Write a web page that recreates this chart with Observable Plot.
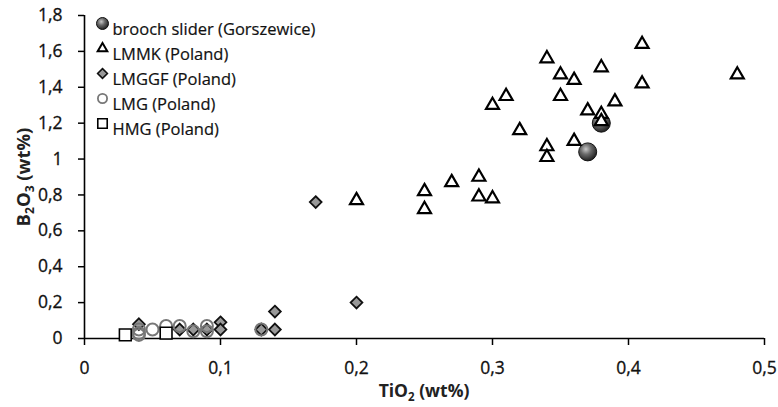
<!DOCTYPE html>
<html><head><meta charset="utf-8">
<script src="https://cdn.jsdelivr.net/npm/d3@7"></script>
<script src="https://cdn.jsdelivr.net/npm/@observablehq/plot@0.6"></script>
<style>
body{margin:0;background:#fff;}
#chart svg{display:block;background:#fff;}
</style>
</head><body><div id="chart"></div>
<script>
// ---- data ----
const seriesNames = ["brooch slider (Gorszewice)", "LMMK (Poland)", "LMGGF (Poland)", "LMG (Poland)", "HMG (Poland)"];

const broochX = [0.37, 0.38];
const broochY = [1.04, 1.20];

const lmmkX = [0.48, 0.41, 0.41, 0.38, 0.34, 0.35, 0.36, 0.35, 0.39, 0.37, 0.38, 0.38, 0.30, 0.31, 0.32, 0.34, 0.34, 0.36, 0.29, 0.29, 0.30, 0.27, 0.25, 0.25, 0.20];
const lmmkY = [1.47, 1.64, 1.42, 1.51, 1.56, 1.47, 1.44, 1.35, 1.32, 1.27, 1.25, 1.21, 1.30, 1.35, 1.16, 1.07, 1.01, 1.10, 0.90, 0.79, 0.78, 0.87, 0.82, 0.72, 0.77];

const lmggfX = [0.17, 0.20, 0.14, 0.14, 0.13, 0.10, 0.10, 0.09, 0.08, 0.07, 0.04];
const lmggfY = [0.76, 0.20, 0.15, 0.05, 0.05, 0.09, 0.05, 0.05, 0.05, 0.05, 0.08];

const lmgX = [0.04, 0.04, 0.04, 0.05, 0.06, 0.07, 0.08, 0.09, 0.09, 0.13];
const lmgY = [0.05, 0.03, 0.02, 0.05, 0.07, 0.07, 0.04, 0.07, 0.04, 0.05];

const hmgX = [0.03, 0.06];
const hmgY = [0.02, 0.03];

const xTicks = [0, 0.1, 0.2, 0.3, 0.4, 0.5];
const yTicks = [0, 0.2, 0.4, 0.6, 0.8, 1.0, 1.2, 1.4, 1.6, 1.8];

// ---- build ----
const toRows = (xs, ys) => xs.map((x, i) => ({x, y: ys[i]}));
const brooch = toRows(broochX, broochY);
const lmmk = toRows(lmmkX, lmmkY);
const lmggf = toRows(lmggfX, lmggfY);
const lmg = toRows(lmgX, lmgY);
const hmg = toRows(hmgX, hmgY);

const fmt = d => (+d.toFixed(2)).toString().replace(".", ",");
const FONT = "'Open Sans', sans-serif";

const legendStyles = [
  {symbol: "circle", r: 6, fill: "url(#sphere)", stroke: "#111", strokeWidth: 1},
  {symbol: "triangle2", r: 4.6, fill: "white", stroke: "#000", strokeWidth: 2},
  {symbol: "diamond2", r: 4.4, fill: "#999", stroke: "#111", strokeWidth: 1.6},
  {symbol: "circle", r: 4.6, fill: "white", stroke: "#777", strokeWidth: 1.8},
  {symbol: "square2", r: 6, fill: "white", stroke: "#000", strokeWidth: 1.6}
];
const legendMarks = seriesNames.flatMap((name, i) => [
  Plot.dot([name], {frameAnchor: "top-left", dx: 18, dy: 8 + 25 * i, ...legendStyles[i]}),
  Plot.text([name], {frameAnchor: "top-left", dx: 28, dy: 8 + 25 * i, text: d => d, textAnchor: "start", fontSize: 16.5, fill: "#111", stroke: "#111", strokeWidth: 0.2, fontFamily: FONT})
]);

const chart = Plot.plot({
  width: 778, height: 407,
  marginLeft: 84, marginRight: 14, marginTop: 15, marginBottom: 69,
  style: {fontFamily: FONT, fontSize: "17.5px", color: "#111", background: "white"},
  x: {domain: [0, 0.5], ticks: xTicks, tickFormat: fmt, label: null},
  y: {domain: [0, 1.8], ticks: yTicks, tickFormat: fmt, label: null},
  marks: [
    Plot.axisX(xTicks, {tickSize: 7, tickPadding: 16, tickFormat: fmt, stroke: "#000", strokeWidth: 1.5, fontSize: 17.5, label: null}),
    Plot.axisY(yTicks, {tickSize: 6, tickPadding: 16, tickFormat: fmt, stroke: "#000", strokeWidth: 1.5, fontSize: 17.5, label: null}),
    Plot.ruleY([0], {stroke: "#000", strokeWidth: 1.6}),
    Plot.ruleX([0], {stroke: "#000", strokeWidth: 1.6}),
    Plot.dot(brooch, {x: "x", y: "y", r: 9, fill: "url(#sphere)", stroke: "#111", strokeWidth: 1}),
    Plot.dot(lmmk, {x: "x", y: "y", symbol: "triangle2", r: 6.2, fill: "white", stroke: "#000", strokeWidth: 2.2}),
    Plot.dot(lmggf, {x: "x", y: "y", symbol: "diamond2", r: 5.3, fill: "#999", stroke: "#111", strokeWidth: 1.8}),
    Plot.dot(lmg, {x: "x", y: "y", symbol: "circle", r: 6, fill: "none", stroke: "#777", strokeWidth: 2}),
    Plot.dot(hmg, {x: "x", y: "y", symbol: "square2", r: 7.5, fill: "white", stroke: "#000", strokeWidth: 1.6}),
    ...legendMarks
  ]
});

const svg = d3.select(chart);
// tick labels: size and slightly heavier rendering
svg.selectAll('g[aria-label$="tick label"]').attr("font-size", 17.5).style("font-size", "17.5px")
  .attr("fill", "#111").attr("stroke", "#111").attr("stroke-width", 0.3);

// gradient for sphere markers
const defs = svg.insert("defs", ":first-child");
const grad = defs.append("radialGradient").attr("id", "sphere").attr("cx", "40%").attr("cy", "35%").attr("r", "65%");
grad.append("stop").attr("offset", "0%").attr("stop-color", "#c8c8c8");
grad.append("stop").attr("offset", "45%").attr("stop-color", "#6a6a6a");
grad.append("stop").attr("offset", "100%").attr("stop-color", "#222");

// axis titles with subscripts
const yt = svg.append("text")
  .attr("transform", "translate(30,177) rotate(-90)")
  .attr("text-anchor", "middle")
  .attr("font-family", FONT).attr("font-weight", "bold").attr("font-size", 18.5).attr("fill", "#222");
yt.append("tspan").text("B");
yt.append("tspan").attr("font-size", 12).attr("dy", 4).text("2");
yt.append("tspan").attr("dy", -4).text("O");
yt.append("tspan").attr("font-size", 12).attr("dy", 4).text("3");
yt.append("tspan").attr("dy", -4).text(" (wt%)");

const xt = svg.append("text")
  .attr("x", 424).attr("y", 397)
  .attr("text-anchor", "middle")
  .attr("font-family", FONT).attr("font-weight", "bold").attr("font-size", 17.5).attr("fill", "#222");
xt.append("tspan").text("TiO");
xt.append("tspan").attr("font-size", 11.5).attr("dy", 4).text("2");
xt.append("tspan").attr("dy", -4).text(" (wt%)");

document.getElementById("chart").appendChild(chart);
</script>
</body></html>
